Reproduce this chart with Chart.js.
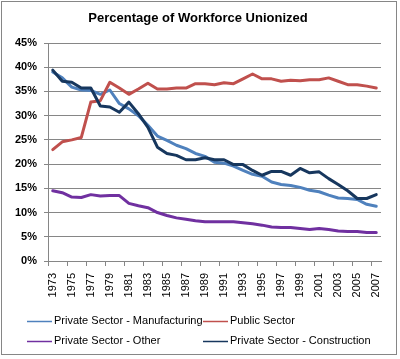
<!DOCTYPE html>
<html>
<head>
<meta charset="utf-8">
<script src="https://cdn.jsdelivr.net/npm/chart.js@4"></script>
<style>
  body { margin: 0; background: #fff; }
</style>
</head>
<body>
<canvas id="grafico" width="400" height="359"></canvas>
<script>
// Years on the category axis
let anos = [];
for (let a = 1973; a <= 2007; a++) anos.push(String(a));

// Percentage unionized per sector
let manufatura = [39.0, 37.8, 35.9, 35.3, 35.2, 34.4, 35.3, 32.5, 31.4, 30.0, 28.0, 25.8, 24.9, 23.9, 23.2, 22.2, 21.6, 20.4, 20.2, 19.6, 18.7, 17.9, 17.5, 16.3, 15.8, 15.6, 15.2, 14.6, 14.3, 13.6, 13.0, 12.9, 12.7, 11.7, 11.3];
let publico = [23.0, 24.6, 25.0, 25.5, 32.8, 33.1, 36.9, 35.7, 34.4, 35.5, 36.7, 35.5, 35.5, 35.7, 35.7, 36.6, 36.6, 36.4, 36.8, 36.6, 37.6, 38.6, 37.6, 37.6, 37.1, 37.3, 37.2, 37.4, 37.4, 37.8, 37.1, 36.4, 36.4, 36.1, 35.7];
let outros = [14.5, 14.1, 13.2, 13.1, 13.7, 13.4, 13.5, 13.5, 11.9, 11.4, 11.0, 10.0, 9.4, 8.9, 8.6, 8.3, 8.1, 8.1, 8.1, 8.1, 7.9, 7.7, 7.4, 7.0, 6.9, 6.9, 6.7, 6.5, 6.7, 6.5, 6.2, 6.1, 6.1, 5.9, 5.9];
let construcao = [39.4, 37.1, 36.9, 35.7, 35.7, 32.0, 31.8, 30.7, 32.8, 30.4, 27.6, 23.5, 22.2, 21.8, 20.9, 20.9, 21.3, 20.9, 20.9, 19.9, 19.9, 18.7, 17.7, 18.5, 18.5, 17.7, 19.1, 18.2, 18.4, 17.0, 15.8, 14.5, 12.9, 12.9, 13.7];

let titulo = 'Percentage of Workforce Unionized';
let fonte = '"Liberation Sans", Arial, sans-serif';
let cinza = '#868686';

// Frame, title and a 2x2 legend like the Excel one
const molduraPlugin = {
    id: 'moldura',
    beforeDraw(chart) {
        const c = chart.ctx;
        c.save();
        c.fillStyle = '#fff';
        c.fillRect(0, 0, chart.width, chart.height);
        c.strokeStyle = cinza;
        c.lineWidth = 1;
        c.strokeRect(1.5, 1.5, 395, 353);
        c.restore();
    },
    afterDraw(chart) {
        const c = chart.ctx;
        c.save();
        c.fillStyle = '#000';
        c.font = 'bold 13px ' + fonte;
        c.textAlign = 'center';
        c.textBaseline = 'middle';
        c.fillText(titulo, 198, 18);

        const colX = [27, 203];
        const rowY = [321, 341];
        c.font = '11px ' + fonte;
        c.textAlign = 'left';
        chart.data.datasets.forEach(function(ds, i) {
            const x = colX[i % 2];
            const y = rowY[Math.floor(i / 2)];
            c.strokeStyle = ds.borderColor;
            c.lineWidth = 1.5;
            c.beginPath();
            c.moveTo(x, y + 0.5);
            c.lineTo(x + 25, y + 0.5);
            c.stroke();
            c.fillStyle = '#000';
            c.fillText(ds.label, x + 27, y);
        });
        c.restore();
    }
};

const ctx = document.getElementById('grafico').getContext('2d');
const grafico = new Chart(ctx, {
    type: 'line',
    data: {
        labels: anos,
        datasets: [
            { label: 'Private Sector - Manufacturing', data: manufatura, borderColor: '#4F81BD', order: 2 },
            { label: 'Public Sector', data: publico, borderColor: '#C0504D', order: 1 },
            { label: 'Private Sector - Other', data: outros, borderColor: '#7030A0', order: 3 },
            { label: 'Private Sector - Construction', data: construcao, borderColor: '#17375E', order: 0 }
        ]
    },
    options: {
        responsive: false,
        animation: false,
        devicePixelRatio: 1,
        elements: {
            line: { borderWidth: 3, tension: 0, fill: false, borderCapStyle: 'round', borderJoinStyle: 'round' },
            point: { radius: 0 }
        },
        layout: { padding: { left: 0, right: 19, top: 43, bottom: 58 } },
        plugins: {
            legend: { display: false },
            title: { display: false },
            tooltip: { enabled: false }
        },
        scales: {
            x: {
                type: 'category',
                offset: true,
                border: { display: true, color: cinza, width: 1 },
                grid: {
                    offset: true,
                    drawOnChartArea: false,
                    drawTicks: true,
                    tickLength: 5,
                    color: function(c) { return c.index !== undefined && c.index % 2 === 0 ? cinza : 'rgba(0,0,0,0)'; }
                },
                ticks: {
                    autoSkip: false,
                    minRotation: 90,
                    maxRotation: 90,
                    padding: 7,
                    color: '#000',
                    font: { family: fonte, size: 11 },
                    callback: function(v, i) { return i % 2 === 0 ? this.getLabelForValue(v) : ''; }
                },
                afterFit: function(s) { s.height = 40; }
            },
            y: {
                min: 0,
                max: 45,
                border: { display: true, color: cinza, width: 1 },
                grid: { color: cinza, lineWidth: 1, tickLength: 4 },
                ticks: {
                    stepSize: 5,
                    padding: 7,
                    color: '#000',
                    font: { family: fonte, size: 11, weight: 'bold' },
                    callback: function(v) { return v + '%'; }
                },
                afterFit: function(s) { s.width = 48; }
            }
        }
    },
    plugins: [molduraPlugin]
});
</script>
</body>
</html>
